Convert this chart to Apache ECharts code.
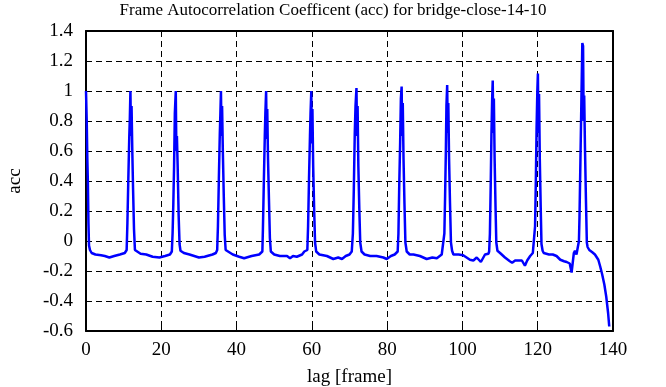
<!DOCTYPE html>
<html>
<head>
<meta charset="utf-8">
<script src="https://cdn.jsdelivr.net/npm/echarts@6/dist/echarts.min.js"></script>
<style>html,body{margin:0;padding:0;background:#fff}#c{width:666px;height:387px}</style>
</head>
<body>
<div id="c"></div>
<script>
const titleText = 'Frame Autocorrelation Coefficent (acc) for bridge-close-14-10';
const xName = 'lag [frame]';
const yName = 'acc';
const xTicks = {min: 0, max: 140, interval: 20};
const yTicks = {min: -0.6, max: 1.4, interval: 0.2};

// [lag, acc] samples
const accData = [
  [0,1.0],[0.2,0.79],[0.35,0.55],[0.5,0.39],[0.65,0.12],[0.8,-0.03],[1.05,-0.06],[1.5,-0.08],[2.5,-0.09],[4,-0.095],[5,-0.1],[6.2,-0.11],[7.5,-0.1],[9,-0.09],[10.3,-0.08],[10.8,-0.06],
  [11.0,0.12],[11.25,0.42],[11.5,0.7],[11.65,0.82],[11.8,1.0],[11.95,0.7],[12.1,0.9],[12.3,0.6],[12.5,0.35],[12.75,0.08],[13.0,-0.06],
  [13.5,-0.07],[14.5,-0.085],[16,-0.09],[17.7,-0.105],[19.5,-0.11],[21,-0.1],[22.3,-0.09],[22.8,-0.07],
  [23.0,0.05],[23.2,0.25],[23.4,0.5],[23.6,0.85],[23.85,1.0],[24.0,0.6],[24.15,0.7],[24.35,0.5],[24.6,0.18],[24.85,-0.02],[25.1,-0.065],
  [26,-0.08],[27.5,-0.09],[30,-0.11],[31.5,-0.105],[33.6,-0.09],[34.5,-0.08],[34.85,-0.06],
  [35.05,0.1],[35.3,0.42],[35.55,0.72],[35.7,0.85],[35.85,1.0],[36.0,0.7],[36.15,0.9],[36.35,0.6],[36.6,0.3],[36.85,0.04],[37.1,-0.06],
  [37.5,-0.07],[39,-0.09],[40.7,-0.105],[42,-0.115],[44,-0.1],[46,-0.09],[46.85,-0.07],
  [47.0,0.08],[47.25,0.4],[47.5,0.7],[47.65,0.85],[47.85,1.0],[48.0,0.68],[48.15,0.88],[48.35,0.55],[48.6,0.28],[48.85,0.02],[49.1,-0.07],
  [50,-0.09],[51.5,-0.1],[53.4,-0.1],[54.2,-0.115],[55,-0.1],[56,-0.105],[57.4,-0.09],[58,-0.07],[58.8,-0.06],
  [59.0,0.1],[59.25,0.42],[59.5,0.7],[59.65,0.85],[59.85,1.0],[60.0,0.65],[60.15,0.88],[60.35,0.5],[60.6,0.22],[60.85,-0.01],[61.15,-0.07],
  [62,-0.09],[64,-0.1],[65.7,-0.12],[67,-0.11],[68,-0.12],[69,-0.1],[70,-0.09],[70.6,-0.07],
  [70.9,0.05],[71.15,0.35],[71.4,0.72],[71.6,0.9],[71.85,1.02],[72.0,0.7],[72.15,0.9],[72.35,0.5],[72.6,0.22],[72.85,-0.01],[73.2,-0.07],
  [74,-0.09],[75.5,-0.1],[77.2,-0.1],[79,-0.11],[79.9,-0.12],[81,-0.1],[82,-0.09],[82.8,-0.07],
  [83.0,0.05],[83.2,0.35],[83.45,0.65],[83.65,0.95],[83.85,1.03],[84.0,0.7],[84.15,0.92],[84.35,0.55],[84.6,0.25],[84.85,-0.01],[85.2,-0.07],
  [86,-0.09],[87,-0.09],[88.7,-0.1],[90.5,-0.12],[92,-0.11],[93.2,-0.115],[94.5,-0.09],[95.0,-0.08],
  [95.2,0.05],[95.4,0.3],[95.6,0.6],[95.75,0.9],[95.95,1.04],[96.1,0.72],[96.25,0.92],[96.45,0.55],[96.7,0.25],[96.95,-0.01],[97.25,-0.065],
  [97.6,-0.09],[99,-0.09],[100.2,-0.095],[102,-0.125],[102.9,-0.13],[103.8,-0.11],[104.9,-0.14],[106,-0.09],[106.9,-0.085],[107.1,-0.07],
  [107.3,0.05],[107.5,0.35],[107.7,0.7],[107.9,0.95],[108.05,1.07],[108.2,0.72],[108.35,0.95],[108.55,0.55],[108.8,0.22],[109.0,-0.01],[109.3,-0.065],
  [110,-0.08],[111.3,-0.11],[112.6,-0.135],[113.2,-0.145],[114,-0.13],[115,-0.13],[115.8,-0.13],[116.6,-0.165],[117.2,-0.13],[118,-0.1],[118.7,-0.08],[119.1,-0.07],
  [119.3,0.1],[119.5,0.4],[119.7,0.75],[119.9,1.0],[120.05,1.117],[120.2,0.72],[120.35,0.98],[120.55,0.55],[120.8,0.22],[121.0,-0.02],[121.3,-0.065],
  [121.6,-0.08],[122,-0.09],[123,-0.09],[124,-0.09],[125,-0.1],[126,-0.125],[127,-0.135],[127.7,-0.14],[128.5,-0.15],[129,-0.21],[129.6,-0.08],[129.9,-0.065],[130.3,-0.09],[130.7,-0.09],
  [130.95,0.0],[131.1,0.16],[131.35,0.54],[131.6,0.93],[131.85,1.32],[132.05,1.3],[132.2,0.8],[132.35,0.97],[132.55,0.63],[132.8,0.29],[133.05,-0.01],[133.25,-0.04],
  [133.7,-0.06],[134.5,-0.075],[135.2,-0.09],[136.1,-0.125],[136.6,-0.17],[137.1,-0.22],[137.7,-0.29],[138.2,-0.37],[138.7,-0.48],[139.0,-0.57]
];

const FONT = 'Liberation Serif';
const chart = echarts.init(document.getElementById('c'));
const dash = {color: '#000', width: 1, type: [6, 4]};
const axisLine = {show: true, onZero: false, lineStyle: {color: '#000', width: 2}};
const tick = {show: true, inside: true, length: 6, lineStyle: {color: '#000', width: 1}};
const label = {color: '#000', fontFamily: FONT, fontSize: 19};
chart.setOption({
  animation: false,
  backgroundColor: '#fff',
  title: {text: titleText, left: 'center', top: -3, textStyle: {fontFamily: FONT, fontSize: 17, fontWeight: 'normal', color: '#000'}},
  grid: {left: 86, right: 53, top: 31, bottom: 56, outerBoundsMode: 'none', containLabel: false},
  xAxis: [
    {type: 'value', position: 'bottom', min: xTicks.min, max: xTicks.max, interval: xTicks.interval,
     axisLine: axisLine, axisTick: tick, axisLabel: Object.assign({margin: 10}, label),
     splitLine: {show: true, lineStyle: dash},
     name: xName, nameLocation: 'middle', nameGap: 37, nameTextStyle: label},
    {type: 'value', position: 'top', min: xTicks.min, max: xTicks.max, interval: xTicks.interval,
     axisLine: axisLine, axisTick: tick, axisLabel: {show: false}, splitLine: {show: false}}
  ],
  yAxis: [
    {type: 'value', position: 'left', min: yTicks.min, max: yTicks.max, interval: yTicks.interval,
     axisLine: axisLine, axisTick: tick, axisLabel: Object.assign({margin: 13}, label),
     splitLine: {show: true, lineStyle: dash},
     name: yName, nameLocation: 'middle', nameGap: 61, nameRotate: 90, nameTextStyle: label},
    {type: 'value', position: 'right', min: yTicks.min, max: yTicks.max, interval: yTicks.interval,
     axisLine: axisLine, axisTick: tick, axisLabel: {show: false}, splitLine: {show: false}}
  ],
  series: [{
    type: 'line', data: accData, showSymbol: false, symbol: 'none',
    xAxisIndex: 0, yAxisIndex: 0,
    lineStyle: {color: '#0000ff', width: 2.5}, itemStyle: {color: '#0000ff'}
  }]
});
</script>
</body>
</html>
